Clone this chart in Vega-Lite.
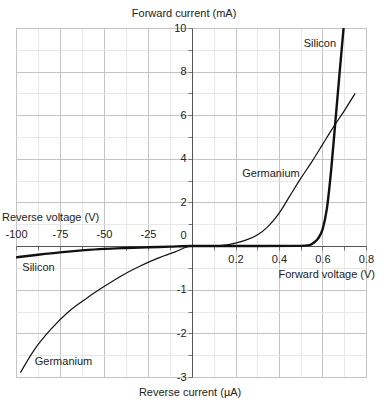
{
  "$schema": "https://vega.github.io/schema/vega-lite/v6.json",
  "width": 350,
  "height": 349,
  "autosize": "none",
  "padding": {"left": 16, "top": 28, "right": 18, "bottom": 34},
  "background": "white",
  "config": {
    "view": {"stroke": "#c4c4c4"},
    "font": "Liberation Sans",
    "text": {"font": "Liberation Sans", "fontSize": 11, "color": "#222"}
  },
  "datasets": {
    "curves": [
      {"material": "Silicon", "V": -100, "I": -0.26},
      {"material": "Silicon", "V": -87.5, "I": -0.2},
      {"material": "Silicon", "V": -75, "I": -0.145},
      {"material": "Silicon", "V": -62.5, "I": -0.1},
      {"material": "Silicon", "V": -50, "I": -0.065},
      {"material": "Silicon", "V": -37.5, "I": -0.045},
      {"material": "Silicon", "V": -25, "I": -0.03},
      {"material": "Silicon", "V": -12.5, "I": -0.015},
      {"material": "Silicon", "V": 0, "I": 0},
      {"material": "Silicon", "V": 0.3, "I": 0},
      {"material": "Silicon", "V": 0.5, "I": 0.005},
      {"material": "Silicon", "V": 0.54, "I": 0.04},
      {"material": "Silicon", "V": 0.56, "I": 0.15},
      {"material": "Silicon", "V": 0.58, "I": 0.35},
      {"material": "Silicon", "V": 0.6, "I": 0.75},
      {"material": "Silicon", "V": 0.62, "I": 1.7},
      {"material": "Silicon", "V": 0.64, "I": 3.5},
      {"material": "Silicon", "V": 0.66, "I": 5.8},
      {"material": "Silicon", "V": 0.68, "I": 8.1},
      {"material": "Silicon", "V": 0.697, "I": 10},
      {"material": "Germanium", "V": -97.5, "I": -2.9},
      {"material": "Germanium", "V": -90, "I": -2.4},
      {"material": "Germanium", "V": -80, "I": -1.9},
      {"material": "Germanium", "V": -70, "I": -1.5},
      {"material": "Germanium", "V": -60, "I": -1.2},
      {"material": "Germanium", "V": -50, "I": -0.93},
      {"material": "Germanium", "V": -40, "I": -0.68},
      {"material": "Germanium", "V": -30, "I": -0.47},
      {"material": "Germanium", "V": -20, "I": -0.29},
      {"material": "Germanium", "V": -10, "I": -0.14},
      {"material": "Germanium", "V": 0, "I": 0},
      {"material": "Germanium", "V": 0.1, "I": 0},
      {"material": "Germanium", "V": 0.13, "I": 0.02},
      {"material": "Germanium", "V": 0.2, "I": 0.13},
      {"material": "Germanium", "V": 0.25, "I": 0.28},
      {"material": "Germanium", "V": 0.3, "I": 0.5},
      {"material": "Germanium", "V": 0.35, "I": 0.9},
      {"material": "Germanium", "V": 0.4, "I": 1.5},
      {"material": "Germanium", "V": 0.45, "I": 2.3},
      {"material": "Germanium", "V": 0.5, "I": 3.1},
      {"material": "Germanium", "V": 0.55, "I": 3.85},
      {"material": "Germanium", "V": 0.6, "I": 4.65},
      {"material": "Germanium", "V": 0.65, "I": 5.45},
      {"material": "Germanium", "V": 0.7, "I": 6.2},
      {"material": "Germanium", "V": 0.75, "I": 7.0}
    ],
    "notes": [
      {"V": 0.588, "I": 9.27, "text": "Silicon"},
      {"V": 0.363, "I": 3.3, "text": "Germanium"},
      {"V": -87.2, "I": -0.5, "text": "Silicon"},
      {"V": -73, "I": -2.65, "text": "Germanium"}
    ],
    "titleTop": [{"V": -4.5, "I": 10, "text": "Forward current (mA)"}],
    "titleBottom": [{"V": -1.1, "I": -3, "text": "Reverse current (µA)"}],
    "titleLeft": [{"V": -100, "I": 0, "text": "Reverse voltage (V)"}],
    "titleRight": [{"V": 0.8, "I": 0, "text": "Forward voltage (V)"}]
  },
  "encoding": {
    "x": {
      "field": "V",
      "type": "quantitative",
      "scale": {"domain": [-100, 0, 0.8], "range": [0, 176, 350], "zero": false, "nice": false},
      "axis": {
        "orient": "bottom",
        "offset": -131,
        "zindex": 0,
        "title": null,
        "values": [-100, -87.5, -75, -62.5, -50, -37.5, -25, -12.5, 0, 0.1, 0.2, 0.3, 0.4, 0.5, 0.6, 0.7, 0.8],
        "labelExpr": "indexof([-100,-75,-50,-25,0.2,0.4,0.6,0.8], datum.value) >= 0 ? toString(datum.value) : ''",
        "labelFlush": false,
        "labelOverlap": false,
        "labelFontSize": 11,
        "labelColor": "#222",
        "labelPadding": {"condition": {"test": "datum.value < 0", "value": -22}, "value": 3},
        "tickSize": 4,
        "tickColor": "#777",
        "domainColor": "#555",
        "grid": true,
        "gridColor": {"condition": {"test": "indexof([-100,-75,-50,-25,0,0.2,0.4,0.6,0.8], datum.value) >= 0", "value": "#c4c4c4"}, "value": "#e8e8e8"}
      }
    },
    "y": {
      "field": "I",
      "type": "quantitative",
      "scale": {"domain": [-3, 0, 10], "range": [349, 218, 0], "zero": false, "nice": false},
      "axis": {
        "orient": "left",
        "offset": -176,
        "zindex": 0,
        "title": null,
        "values": [-3, -2.5, -2, -1.5, -1, -0.5, 0, 1, 2, 3, 4, 5, 6, 7, 8, 9, 10],
        "labelExpr": "indexof([-3,-2,-1,0,2,4,6,8,10], datum.value) >= 0 ? toString(datum.value) : ''",
        "labelFlush": false,
        "labelOverlap": false,
        "labelFontSize": 11,
        "labelColor": "#222",
        "labelPadding": 2,
        "labelOffset": {"condition": {"test": "datum.value === 0", "value": -11}, "value": 0},
        "tickSize": 4,
        "tickColor": "#777",
        "domainColor": "#555",
        "grid": true,
        "gridColor": {"condition": {"test": "indexof([-3,-2,-1,0,2,4,6,8,10], datum.value) >= 0", "value": "#c4c4c4"}, "value": "#e8e8e8"}
      }
    }
  },
  "layer": [
    {
      "data": {"name": "curves"},
      "mark": {"type": "line", "interpolate": "monotone", "clip": true, "color": "#111"},
      "encoding": {
        "detail": {"field": "material", "type": "nominal"},
        "strokeWidth": {"field": "material", "type": "nominal", "scale": {"domain": ["Silicon", "Germanium"], "range": [2.4, 1.2]}, "legend": null}
      }
    },
    {
      "data": {"name": "notes"},
      "mark": {"type": "text", "align": "center", "baseline": "middle"},
      "encoding": {"text": {"field": "text", "type": "nominal"}}
    },
    {
      "data": {"name": "titleTop"},
      "mark": {"type": "text", "align": "center", "baseline": "middle", "dy": -14},
      "encoding": {"text": {"field": "text", "type": "nominal"}}
    },
    {
      "data": {"name": "titleBottom"},
      "mark": {"type": "text", "align": "center", "baseline": "middle", "dy": 16},
      "encoding": {"text": {"field": "text", "type": "nominal"}}
    },
    {
      "data": {"name": "titleLeft"},
      "mark": {"type": "text", "align": "left", "baseline": "middle", "dx": -14, "dy": -28},
      "encoding": {"text": {"field": "text", "type": "nominal"}}
    },
    {
      "data": {"name": "titleRight"},
      "mark": {"type": "text", "align": "right", "baseline": "middle", "dx": 9, "dy": 29},
      "encoding": {"text": {"field": "text", "type": "nominal"}}
    }
  ]
}
